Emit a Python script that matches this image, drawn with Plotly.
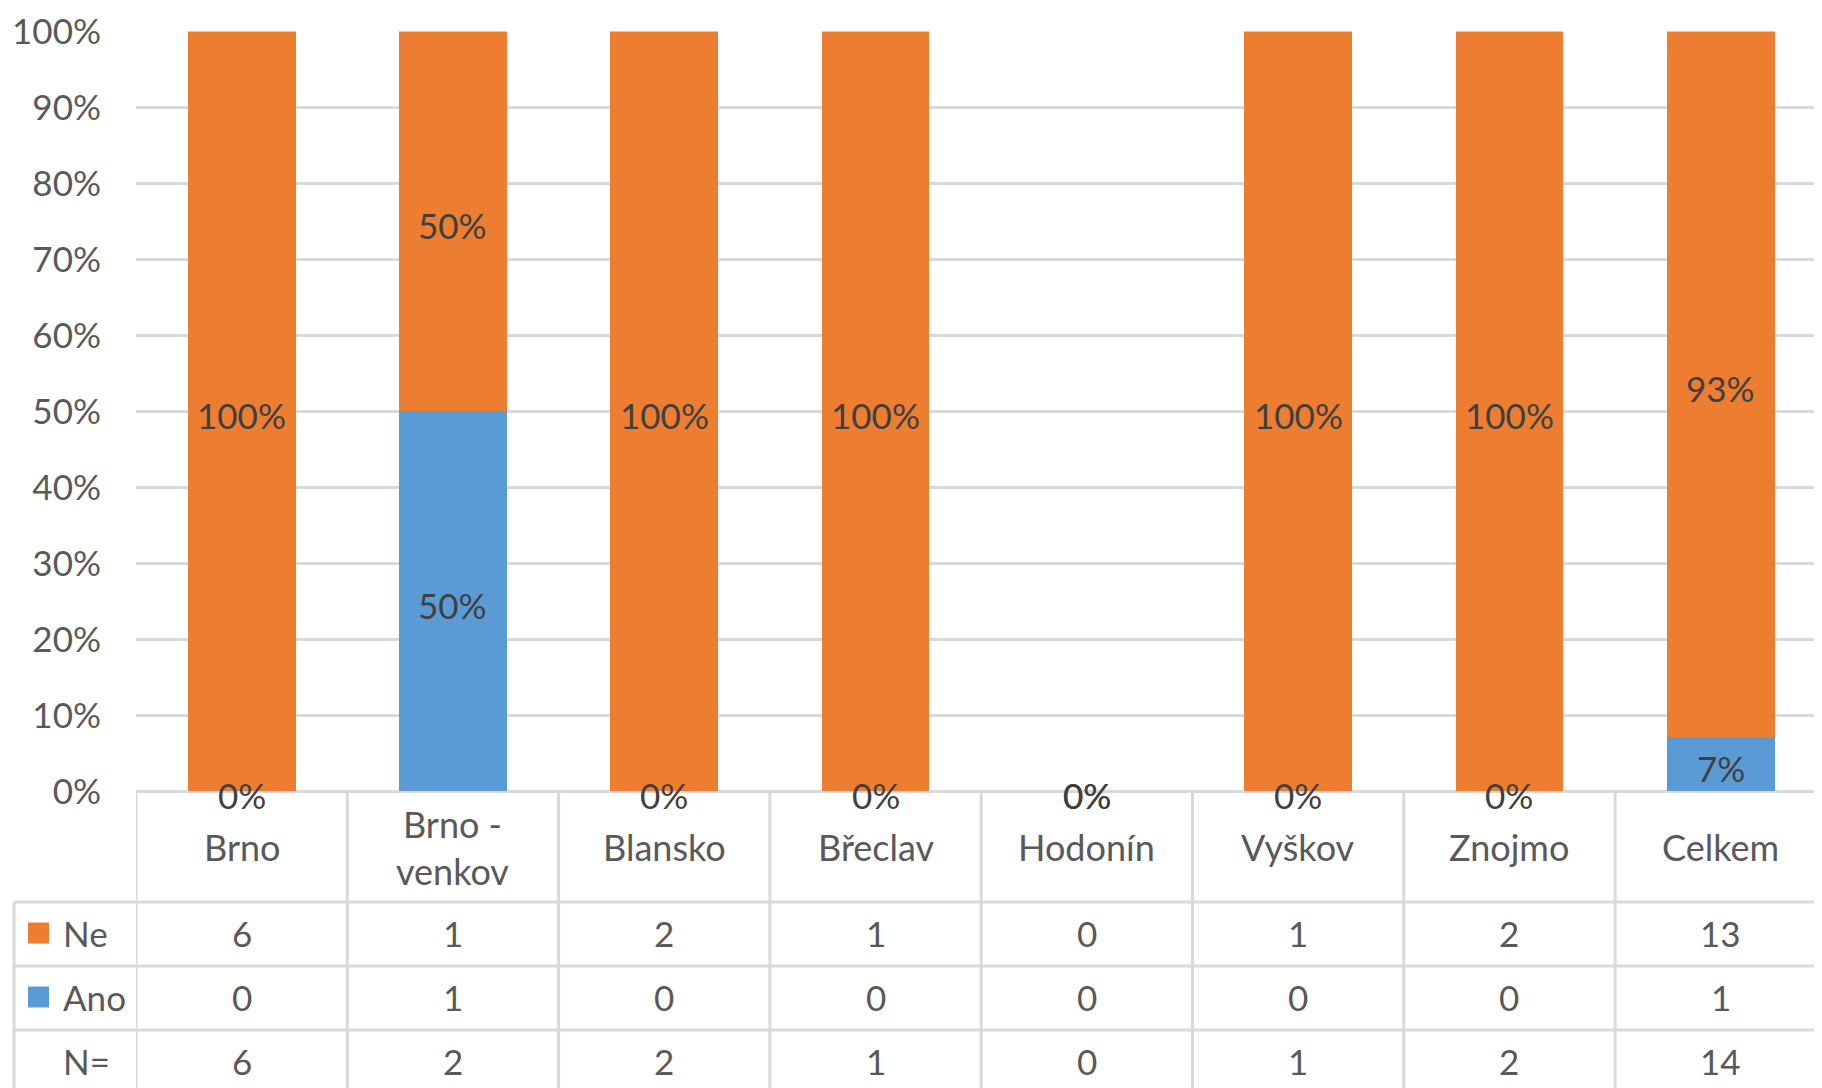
import plotly.graph_objects as go

# ---- data ----
categories = ["Brno", "Brno - venkov", "Blansko", "Břeclav", "Hodonín", "Vyškov", "Znojmo", "Celkem"]
header_labels = ["Brno", "Brno -<br>venkov", "Blansko", "Břeclav", "Hodonín", "Vyškov", "Znojmo", "Celkem"]
ne_counts = [6, 1, 2, 1, 0, 1, 2, 13]
ano_counts = [0, 1, 0, 0, 0, 0, 0, 1]
n_totals = [6, 2, 2, 1, 0, 1, 2, 14]
row_names = ["Ne", "Ano", "N="]
y_tick_vals = [0, 0.1, 0.2, 0.3, 0.4, 0.5, 0.6, 0.7, 0.8, 0.9, 1.0]

# ---- styles ----
C_NE = "#ED7D31"
C_ANO = "#5B9BD5"
GRID = "#D9D9D9"
TXT = "#595959"
LBL = "#404040"
FONT = "Lato"
FS = 35
FS_HEAD = 36
OFF = 8  # page body margin
W, H = 1822 - OFF, 1088 - OFF

ne_pct = [ne / n if n else 0 for ne, n in zip(ne_counts, n_totals)]
ano_pct = [a / n if n else 0 for a, n in zip(ano_counts, n_totals)]

fig = go.Figure()
fig.add_trace(go.Bar(x=categories, y=ano_pct, name="Ano", marker=dict(color=C_ANO, line=dict(width=0)),
                     width=0.51, hoverinfo="skip"))
fig.add_trace(go.Bar(x=categories, y=ne_pct, name="Ne", marker=dict(color=C_NE, line=dict(width=0)),
                     width=0.51, hoverinfo="skip"))

# ---- layout geometry (screen pixels) ----
x_plot_left = 136
col_w = 211.3
y_top, y_axis = 31.4, 791.3
row_lines = [902, 966, 1030]
table_left = 14
py = lambda p: 1 - (p - OFF) / H
px = lambda p: (p - OFF) / W
x_right = -0.5 + (1822 - x_plot_left) / col_w

annotations = []
# data labels (centered in each segment, 0% at baseline)
ano_mid = [a / 2 for a in ano_pct]
ne_mid = [a + n / 2 for a, n in zip(ano_pct, ne_pct)]
fmt = lambda v: f"{round(v * 100):.0f}%"
for mids, pcts in [(ano_mid, ano_pct), (ne_mid, ne_pct)]:
    for cat, m, p in zip(categories, mids, pcts):
        annotations.append(dict(x=cat, xref="x", y=m, yref="y", text=fmt(p), showarrow=False, yshift=-4,
                                font=dict(family=FONT, size=FS, color=LBL), xanchor="center", yanchor="middle"))

shapes = []
for i in range(len(categories)):
    xb = i - 0.5
    shapes.append(dict(type="line", xref="x", yref="paper", x0=xb, x1=xb, y0=py(y_axis), y1=py(1100),
                       line=dict(color=GRID, width=3)))
shapes.append(dict(type="line", xref="paper", yref="paper", x0=px(table_left), x1=px(table_left),
                   y0=py(row_lines[0]), y1=py(1100), line=dict(color=GRID, width=3)))
for r in row_lines:
    shapes.append(dict(type="line", xref="paper", yref="paper", x0=px(table_left), x1=1.01, y0=py(r), y1=py(r),
                       line=dict(color=GRID, width=3)))
for color, yc in [(C_NE, 933), (C_ANO, 997)]:
    shapes.append(dict(type="rect", xref="paper", yref="paper", x0=px(28), x1=px(49), y0=py(yc - 10.5),
                       y1=py(yc + 10.5), fillcolor=color, line=dict(width=0)))

for i, lab in enumerate(header_labels):
    annotations.append(dict(x=i, xref="x", y=py(847), yref="paper", text=lab, showarrow=False,
                            font=dict(family=FONT, size=FS_HEAD, color=TXT), xanchor="center", yanchor="middle"))
row_centers = [933, 997, 1061]
row_values = [ne_counts, ano_counts, n_totals]
for name, yc, vals in zip(row_names, row_centers, row_values):
    annotations.append(dict(x=px(61), xref="paper", y=py(yc), yref="paper", text=name, showarrow=False,
                            font=dict(family=FONT, size=FS, color=TXT), xanchor="left", yanchor="middle"))
    for i, v in enumerate(vals):
        annotations.append(dict(x=i, xref="x", y=py(yc), yref="paper", text=str(v), showarrow=False,
                                font=dict(family=FONT, size=FS, color=TXT), xanchor="center", yanchor="middle"))

fig.update_layout(
    template="none",
    width=W, height=H, margin=dict(l=0, r=0, t=0, b=0, pad=0, autoexpand=False),
    paper_bgcolor="white", plot_bgcolor="white",
    barmode="stack", bargap=0.49, showlegend=False,
    xaxis=dict(domain=[px(x_plot_left), 1], range=[-0.5, x_right], showticklabels=False, showgrid=False,
               zeroline=False, showline=False, fixedrange=True, automargin=False, ticks=""),
    yaxis=dict(domain=[py(y_axis), py(y_top)], range=[0, 1], tickvals=y_tick_vals, tickformat=".0%",
               showgrid=True, gridcolor=GRID, gridwidth=3, zeroline=True, zerolinecolor=GRID, zerolinewidth=3,
               showline=False, ticks="", ticklabelstandoff=34, automargin=False,
               tickfont=dict(family=FONT, size=FS, color=TXT), fixedrange=True),
    shapes=shapes, annotations=annotations,
)

fig.write_html("out.html")
